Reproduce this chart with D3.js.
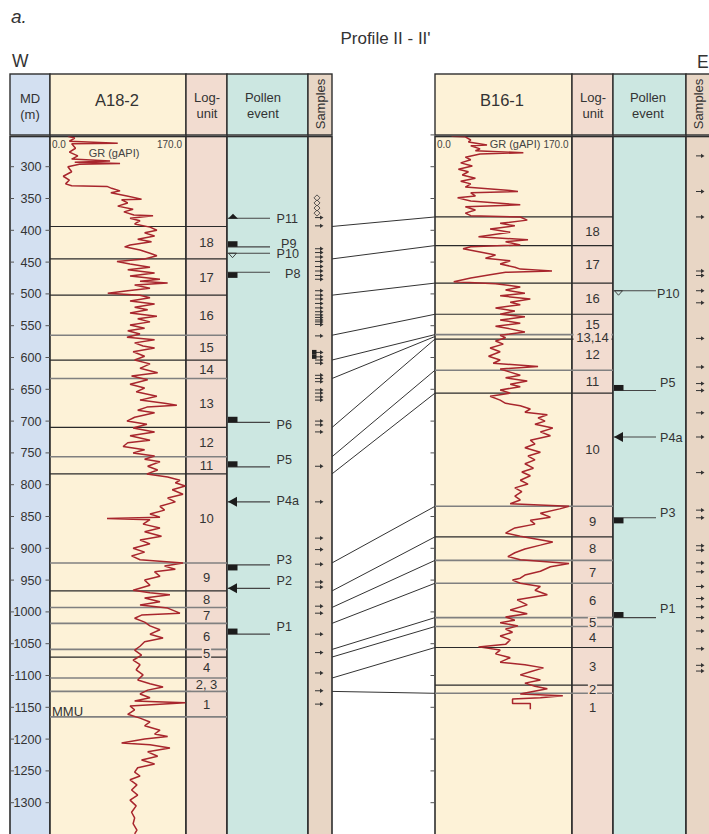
<!DOCTYPE html>
<html><head><meta charset="utf-8">
<script src="https://cdn.jsdelivr.net/npm/d3@7"></script>
<style>body{margin:0;background:#fff}svg{display:block;font-family:"Liberation Sans",Arial,Helvetica,sans-serif}</style>
</head><body><svg id="c" width="709" height="834"></svg>
<script>
// ---------------- DATA ----------------
const mdTicks = [300,350,400,450,500,550,600,650,700,750,800,850,900,950,1000,1050,1100,1150,1200,1250,1300];
const rightTicks = [250,300,350,400,450,500,550,600,650,700,750,800,850,900,950,1000,1050,1100,1150,1200,1250,1300];
const grRange = [0, 170];

// GR log of A18-2: [depth m, GR gAPI]
const grA18 = [[252,20],[255,29],[260,22],[263,85],[264,25],[271,30],[277,22],[283,33],[288,25],[291,75],[293,29],[295,88],[296,35],[300,20],[308,25],[315,14],[321,22],[327,17],[330,25],[331,71],[334,77],[338,88],[341,76],[346,97],[351,116],[352,90],[357,98],[362,85],[367,105],[371,93],[376,106],[377,131],[381,101],[385,114],[390,107],[395,127],[400,136],[404,120],[409,133],[414,111],[418,129],[423,101],[426,94],[431,114],[436,127],[440,136],[445,120],[449,84],[453,101],[458,127],[462,98],[467,133],[472,101],[477,140],[480,114],[483,150],[486,107],[491,127],[495,98],[499,72],[502,114],[506,127],[511,101],[516,133],[521,107],[525,124],[530,101],[535,136],[539,111],[544,127],[549,101],[554,120],[558,98],[563,114],[568,97],[572,133],[577,107],[582,118],[585,133],[591,105],[598,120],[604,107],[610,127],[617,114],[624,137],[629,103],[635,124],[642,101],[648,120],[654,109],[661,136],[667,114],[672,146],[675,162],[678,123],[683,111],[687,133],[694,107],[700,97],[705,123],[711,105],[717,133],[723,101],[730,127],[734,98],[740,92],[745,120],[750,105],[755,133],[760,120],[764,140],[771,124],[777,137],[783,123],[788,150],[793,166],[797,160],[802,173],[808,156],[815,170],[821,150],[827,160],[834,140],[840,146],[846,127],[851,140],[853,71],[855,127],[862,118],[868,140],[874,120],[881,142],[887,114],[893,127],[900,105],[906,120],[912,103],[918,114],[923,170],[928,146],[933,160],[937,133],[944,140],[950,120],[958,127],[966,105],[970,127],[973,153],[978,120],[984,140],[989,114],[994,150],[1002,166],[1005,116],[1010,107],[1016,120],[1022,127],[1028,140],[1035,127],[1041,144],[1047,120],[1054,114],[1060,107],[1068,116],[1076,105],[1083,114],[1091,109],[1099,118],[1107,111],[1113,127],[1118,144],[1123,124],[1129,114],[1135,127],[1140,107],[1143,173],[1148,101],[1154,107],[1161,98],[1167,114],[1173,127],[1179,120],[1186,140],[1192,133],[1196,150],[1200,120],[1206,90],[1209,127],[1214,153],[1220,124],[1227,137],[1233,116],[1239,133],[1245,111],[1252,107],[1258,114],[1264,101],[1272,110],[1280,103],[1288,111],[1296,101],[1305,109],[1315,103],[1324,107],[1333,105],[1343,110],[1349,107]];

// GR log of B16-1: [depth m, GR gAPI]
const grB16 = [[249,17],[252,19],[253,36],[258,43],[261,40],[266,64],[267,43],[272,55],[275,49],[278,111],[280,55],[285,36],[289,43],[294,30],[299,45],[304,27],[308,40],[313,32],[318,49],[323,30],[327,43],[332,36],[337,90],[339,104],[341,43],[346,49],[349,26],[354,43],[360,107],[363,36],[368,49],[373,36],[377,43],[379,107],[384,116],[389,81],[393,100],[398,68],[403,94],[410,53],[415,117],[418,88],[423,107],[426,43],[429,33],[434,55],[439,75],[444,62],[448,94],[453,81],[458,100],[461,107],[464,148],[466,88],[470,68],[475,43],[481,21],[484,75],[489,107],[494,88],[499,113],[503,81],[508,120],[513,94],[517,107],[522,75],[527,100],[532,81],[536,113],[541,81],[546,107],[551,75],[555,94],[560,113],[565,81],[569,88],[574,75],[579,85],[585,68],[591,81],[598,66],[604,81],[609,72],[614,130],[618,81],[623,94],[628,107],[632,88],[637,116],[642,94],[646,107],[651,81],[656,94],[661,68],[667,81],[672,88],[676,107],[681,120],[686,113],[690,142],[695,130],[700,139],[705,126],[711,149],[717,133],[723,146],[730,120],[736,126],[742,113],[749,133],[755,117],[761,126],[767,113],[774,124],[780,109],[786,120],[793,107],[799,117],[805,100],[811,109],[818,100],[824,107],[830,94],[834,170],[838,158],[845,133],[851,146],[856,120],[862,126],[868,100],[876,88],[881,107],[890,149],[895,133],[901,113],[907,100],[913,91],[918,107],[924,170],[929,146],[936,133],[942,113],[947,107],[950,97],[955,107],[960,133],[966,126],[973,142],[981,103],[989,116],[997,94],[1003,116],[1008,88],[1013,100],[1017,81],[1022,104],[1027,88],[1032,97],[1038,81],[1044,94],[1051,88],[1055,53],[1060,81],[1066,75],[1072,94],[1079,81],[1083,113],[1088,137],[1094,120],[1099,107],[1107,133],[1112,113],[1117,126],[1121,142],[1126,120],[1129,107],[1132,162],[1135,133],[1137,97],[1144,97],[1144,120],[1153,120]];

// log-unit boundaries (depth m) and unit labels (between successive boundaries)
const boundsA18 = [394,445,502,565,604,633,710,756,783,923,967,993,1018,1059,1071,1104,1125,1165];
const unitsA18  = ["18","17","16","15","14","13","12","11","10","9","8","7","6","5","4","2, 3","1"];
const boundsB16 = [379,424,483,532,564,571,620,656,834,882,919,955,1009,1023,1056,1115,1128,1172];
const unitsB16  = ["18","17","16","15","13,14","12","11","10","9","8","7","6","5","4","3","2","1"];

// correlation of boundaries A18-2 -> B16-1
const corrA18 = [394,445,502,565,604,633,710,756,783,923,967,993,1018,1059,1071,1104,1125];
const corrB16 = [379,424,483,532,564,567,571,620,656,834,882,919,955,1009,1023,1056,1128];

// pollen events
const pollenNamesA18  = ["P11","P9","P10","P8","P6","P5","P4a","P3","P2","P1"];
const pollenDepthsA18 = [381,426,436,466,702,772,827,926,963,1035];
const pollenTypesA18  = ["triUp","bar","triOpen","bar","bar","bar","arrow","bar","arrow","bar"];
const pollenNamesB16  = ["P10","P5","P4a","P3","P1"];
const pollenDepthsB16 = [495,652,725,852,1009];
const pollenTypesB16  = ["triOpen","bar","arrow","bar","bar"];

// samples
const sampleDepthsA18 = [380,393,429,435,442,449,457,464,471,477,495,502,508,515,522,528,533,537,541,544,548,566,592,599,604,609,628,633,638,651,656,662,667,700,706,717,771,827,884,902,925,953,961,991,1002,1035,1064,1096,1124,1145];
const diamondDepthsA18 = [349,357,365,373];
const squareDepthsA18 = [592,599];
const sampleDepthsB16 = [283,339,379,464,471,495,514,570,615,641,652,687,725,781,840,852,896,903,923,937,960,979,992,1009,1030,1058,1084,1093];

// ---------------- LAYOUT ----------------
const svg = d3.select("#c");
const y = d3.scaleLinear().domain([300,1300]).range([166.7,802.7]);
const hTop = 74, hBot = 135, bTop = 136.5, bBot = 850;
const C = {md:"#d3e0f1", gr:"#fdf2d7", lu:"#f2dcd0", pe:"#cce7e1", sa:"#e8d6c5"};
const LP = {md:[10,50], gr:[50,186], lu:[186,227], pe:[227,308], sa:[308,332]};
const RP = {gr:[435,572], lu:[572,613], pe:[613,686], sa:[686,712]};
const ink = "#2e2e2e";

// titles
svg.append("text").attr("x",11).attr("y",23).attr("font-size",19).attr("font-style","italic").attr("fill","#333").text("a.");
svg.append("text").attr("x",385.5).attr("y",44).attr("text-anchor","middle").attr("font-size",17).attr("fill","#333").text("Profile II - II'");
svg.append("text").attr("x",12).attr("y",66.5).attr("font-size",17.5).attr("fill","#333").text("W");
svg.append("text").attr("x",697).attr("y",68).attr("font-size",17.5).attr("fill","#333").text("E");

function columns(P){
  Object.keys(P).forEach(k=>{
    const [a,b]=P[k];
    svg.append("rect").attr("x",a).attr("y",hTop).attr("width",b-a).attr("height",hBot-hTop)
      .attr("fill",C[k]).attr("stroke",ink).attr("stroke-width",1.4);
    svg.append("rect").attr("x",a).attr("y",bTop).attr("width",b-a).attr("height",bBot-bTop)
      .attr("fill",C[k]).attr("stroke",ink).attr("stroke-width",1.6);
  });
}
columns(LP); columns(RP);

// header texts
function htext(x,yy,t,fs){svg.append("text").attr("x",x).attr("y",yy).attr("text-anchor","middle").attr("font-size",fs).attr("fill","#333").text(t);}
htext(30,102.5,"MD",13); htext(30,119,"(m)",13);
htext(117,106,"A18-2",16.5);
htext(207,102,"Log-",13); htext(207,118,"unit",13);
htext(263,102,"Pollen",13); htext(263,118,"event",13);
htext(502,106,"B16-1",16.5);
htext(593,102,"Log-",13); htext(593,118,"unit",13);
htext(648,102,"Pollen",13); htext(648,118,"event",13);
[[320,104],[698,104]].forEach(([x,yy])=>{
  svg.append("text").attr("transform",`translate(${x+4.5},${yy}) rotate(-90)`).attr("text-anchor","middle")
    .attr("font-size",13).attr("fill","#333").text("Samples");
});

// MD axis
const mdG = svg.append("g");
mdTicks.forEach(t=>{
  const yy=y(t);
  mdG.append("line").attr("x1",10).attr("x2",14).attr("y1",yy).attr("y2",yy).attr("stroke","#555");
  mdG.append("line").attr("x1",45.5).attr("x2",50).attr("y1",yy).attr("y2",yy).attr("stroke","#555");
  mdG.append("text").attr("x",41.5).attr("y",yy+4.5).attr("text-anchor","end").attr("font-size",12.6).attr("fill","#333").text(t);
});
// right well depth ticks
rightTicks.forEach(t=>{
  const yy=y(t);
  svg.append("line").attr("x1",430.5).attr("x2",435).attr("y1",yy).attr("y2",yy).attr("stroke","#555");
});

// boundaries + unit labels
const greyA = new Set([565,633,756,923,993,1018,1059,1104,1125,1165]);
const greyB = new Set([564,620,834,919,955,1009,1023,1128]);
function bounds(P,bnds,units,grey,lastDrawn){
  bnds.forEach((b,i)=>{
    if(!lastDrawn && i===bnds.length-1) return;
    svg.append("line").attr("x1",P.gr[0]).attr("x2",P.lu[1]).attr("y1",y(b)).attr("y2",y(b))
      .attr("stroke",grey.has(b)?"#808080":"#2a2a2a").attr("stroke-width",grey.has(b)?1.6:1.2);
  });
  units.forEach((u,i)=>{
    const cy=(y(bnds[i])+y(bnds[i+1]))/2, cx=(P.lu[0]+P.lu[1])/2;
    const w=u.length*7.2+2;
    svg.append("rect").attr("x",cx-w/2).attr("y",cy-5.5).attr("width",w).attr("height",11).attr("fill",C.lu);
    svg.append("text").attr("x",cx).attr("y",cy+4.7).attr("text-anchor","middle").attr("font-size",13).attr("fill","#333").text(u);
  });
}
bounds(LP,boundsA18,unitsA18,greyA,true);
bounds(RP,boundsB16,unitsB16,greyB,false);

// MMU label
svg.append("text").attr("x",52).attr("y",y(1165)-1).attr("font-size",13).attr("fill","#333").text("MMU");

// GR curves
function grCurve(P,data,id){
  const x=d3.scaleLinear().domain(grRange).range([P.gr[0]+2.5,P.gr[1]-3]);
  svg.append("clipPath").attr("id",id).append("rect").attr("x",P.gr[0]).attr("y",bTop).attr("width",P.gr[1]-P.gr[0]).attr("height",bBot-bTop);
  svg.append("path").attr("d",d3.line().x(d=>x(d[1])).y(d=>y(d[0]))(data))
    .attr("fill","none").attr("stroke","#a8262d").attr("stroke-width",1.5).attr("stroke-linejoin","bevel")
    .attr("clip-path",`url(#${id})`);
}
grCurve(LP,grA18,"clipA");
grCurve(RP,grB16,"clipB");

// GR scale labels
function small(x,yy,t,fs,anchor){svg.append("text").attr("x",x).attr("y",yy).attr("font-size",fs).attr("fill","#444").attr("text-anchor",anchor||"start").text(t);}
small(52,147.5,"0.0",10); small(182,147.5,"170.0",10,"end"); small(114,157,"GR (gAPI)",11,"middle");
small(437,148,"0.0",10); small(568.5,148,"170.0",10,"end"); small(515,148,"GR (gAPI)",11,"middle");

// correlation lines
corrA18.forEach((a,i)=>{
  svg.append("line").attr("x1",LP.sa[1]).attr("x2",RP.gr[0]).attr("y1",y(a)).attr("y2",y(corrB16[i]))
    .attr("stroke","#333").attr("stroke-width",1);
});

// pollen events
const nudgeA = {P11:0,P9:-3,P10:0,P8:1,P6:2,P5:-7,P4a:-1,P3:-5,P2:-8,P1:-8};
const nudgeB = {P10:3,P5:-8,P4a:0,P3:-5,P1:-9};
const labelXA = {P8:285,P9:281};
function pollen(P,names,depths,types,nudge,lineEnd,labelX,labelXMap,belowNames){
  const x0=P.pe[0];
  names.forEach((n,i)=>{
    const yy=y(depths[i]), t=types[i];
    svg.append("line").attr("x1",x0).attr("x2",lineEnd).attr("y1",yy).attr("y2",yy).attr("stroke","#444").attr("stroke-width",1.1);
    if(t==="bar"){
      const bl = belowNames.has(n);
      svg.append("rect").attr("x",x0+1).attr("y",bl?yy:yy-5.6).attr("width",9.5).attr("height",5.6).attr("fill","#1c1c1c");
    } else if(t==="triUp"){
      svg.append("path").attr("d",`M${x0+1},${yy+0.5}L${x0+11},${yy+0.5}L${x0+6},${yy-4.5}Z`).attr("fill","#1c1c1c");
    } else if(t==="triOpen"){
      svg.append("path").attr("d",`M${x0+1.5},${yy}L${x0+9.5},${yy}L${x0+5.5},${yy+4.5}Z`).attr("fill","none").attr("stroke","#333").attr("stroke-width",0.9);
    } else if(t==="arrow"){
      svg.append("path").attr("d",`M${x0+1},${yy}L${x0+10},${yy-5}L${x0+10},${yy+5}Z`).attr("fill","#1c1c1c");
    }
    svg.append("text").attr("x",labelXMap[n]||labelX).attr("y",yy+nudge[n]+4.5).attr("font-size",12.6).attr("fill","#333").text(n);
  });
}
pollen(LP,pollenNamesA18,pollenDepthsA18,pollenTypesA18,nudgeA,270,276.5,labelXA,new Set(["P8","P3"]));
pollen(RP,pollenNamesB16,pollenDepthsB16,pollenTypesB16,nudgeB,656,660,{P10:657},new Set(["P3"]));

// samples
function samples(x0,depths){
  depths.forEach(d=>{
    const yy=y(d);
    svg.append("line").attr("x1",x0).attr("x2",x0+6).attr("y1",yy).attr("y2",yy).attr("stroke","#333").attr("stroke-width",1);
    svg.append("path").attr("d",`M${x0+8.5},${yy}L${x0+5},${yy-2.2}L${x0+5},${yy+2.2}Z`).attr("fill","#333");
  });
}
samples(315,sampleDepthsA18);
samples(696,sampleDepthsB16);
diamondDepthsA18.forEach(d=>{
  const yy=y(d);
  svg.append("path").attr("d",`M317,${yy-3}L320,${yy}L317,${yy+3}L314,${yy}Z`).attr("fill","none").attr("stroke","#444").attr("stroke-width",0.9);
});
squareDepthsA18.forEach(d=>{
  svg.append("rect").attr("x",312).attr("y",y(d)-2.5).attr("width",4.5).attr("height",4.5).attr("fill","#222");
});
</script></body></html>
